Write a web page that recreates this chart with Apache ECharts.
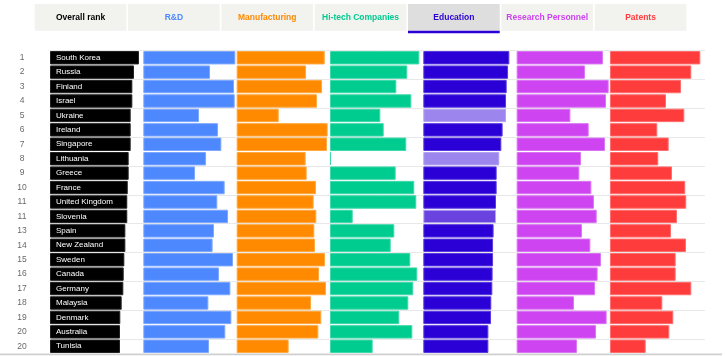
<!DOCTYPE html>
<html>
<head>
<meta charset="utf-8">
<script src="https://cdn.jsdelivr.net/npm/echarts@6/dist/echarts.min.js"></script>
<style>
html,body{margin:0;padding:0;background:#fff;}
#chart{width:725px;height:356px;}
</style>
</head>
<body>
<div id="chart"></div>
<script>
// ---------- DATA ----------
const categories = ['South Korea','Russia','Finland','Israel','Ukraine','Ireland','Singapore','Lithuania','Greece','France','United Kingdom','Slovenia','Spain','New Zealand','Sweden','Canada','Germany','Malaysia','Denmark','Australia','Tunisia'];
const ranks = [1,2,3,4,5,6,7,8,9,10,11,11,13,14,15,16,17,18,19,20,20];
const tabLabels = ['Overall rank','R&D','Manufacturing','Hi-tech Companies','Education','Research Personnel','Patents'];
const overallScore = [96.7,91.3,89.5,89.5,87.7,87.7,87.7,85.5,85.5,84.5,84.0,84.0,81.9,81.9,80.8,80.1,79.7,77.9,76.4,76.1,76.1];
const rdScore = [100,72.5,98.6,99.3,60.5,81.2,84.8,68.2,56.2,88.4,80.4,92.1,76.8,75.3,97.5,82.3,94.6,70.7,95.7,89.1,71.4];
const manufacturingScore = [95.7,75.4,92.8,87.3,45.7,98.9,98.2,75.0,76.1,86.2,83.7,86.6,84.4,85.1,96.0,89.5,97.1,80.8,92.0,88.8,56.5];
const hiTechScore = [97.1,84.0,72.1,88.4,54.7,58.4,82.9,1.0,71.4,91.6,93.8,24.7,69.9,66.0,87.3,94.9,90.5,85.1,75.3,89.5,46.4];
const educationScore = [93.5,92.1,90.6,89.9,89.9,86.2,84.8,82.6,79.7,79.7,79.0,79.0,76.4,75.8,75.8,75.3,75.0,73.9,73.6,70.7,70.7];
const researchScore = [93.8,74.2,100,97.1,58.4,78.3,96.0,69.9,68.1,81.2,84.0,87.0,71.0,80.1,91.6,88.0,85.1,62.3,97.8,86.2,65.5];
const patentsScore = [98.2,88.4,77.2,60.9,80.8,51.4,63.8,52.5,67.4,81.8,82.9,72.8,66.3,82.6,71.4,71.4,88.4,56.9,68.8,64.5,38.8];

// ---------- STYLE ----------
const FONT = '"Liberation Sans", Arial, sans-serif';
const colLeft0 = 50, colPitch = 93.33, colWidth = 92, gridTop = 50.5, plotH = 303;
const colors = ['#000000','#4d88ff','#ff8a00','#00cc8f','#2b00d6','#cd44f0','#ff3c3c'];
const borders = ['#222222','#7ea8ff','#ffa940','#40d9ab','#5a3ae0','#da74f4','#ff6e6e'];
const tabTextColors = ['#000000','#4d88ff','#ff8a00','#00cc8f','#2b00d6','#cd44f0','#ff3c3c'];
const eduShade = {4:'#9c86ee', 7:'#9c86ee', 11:'#6a42e0'}; // lighter shades for some education bars
const seriesData = [overallScore, rdScore, manufacturingScore, hiTechScore, educationScore, researchScore, patentsScore];

const grids = [], xAxes = [], yAxes = [], seriesList = [];
for (let i = 0; i < 7; i++) {
  grids.push({left: colLeft0 + i*colPitch, top: gridTop, width: colWidth, height: plotH, z: 3});
  xAxes.push({type:'value', gridIndex:i, min:0, max:100, show:false});
  yAxes.push({
    type:'category', gridIndex:i, data:categories, inverse:true,
    axisLine:{show:false}, axisTick:{show:false}, splitLine:{show:false},
    axisLabel: i === 0 ? {show:true, align:'center', margin:28, color:'#6a6a6a', fontSize:8.5, fontFamily:FONT,
      formatter:(v, idx) => String(ranks[idx])} : {show:false}
  });
  const data = seriesData[i].map((v, idx) => {
    if (i === 4 && eduShade[idx]) return {value:v, itemStyle:{color:eduShade[idx], borderColor:'#b3a3f2'}};
    return v;
  });
  seriesList.push({
    type:'bar', xAxisIndex:i, yAxisIndex:i, data:data, barCategoryGap:'7%',
    itemStyle:{color:colors[i], borderColor:borders[i], borderWidth:1},
    label: i === 0 ? {show:true, position:'insideLeft', distance:6, formatter:'{b}', color:'#fff', fontSize:8, fontFamily:FONT} : {show:false},
    silent:true, animation:false
  });
}
// row separator grid
grids.push({left:colLeft0, top:gridTop, width:655, height:plotH, z:1});
xAxes.push({type:'value', gridIndex:7, min:0, max:100, show:false});
yAxes.push({type:'category', gridIndex:7, data:categories, inverse:true,
  axisLine:{show:false}, axisTick:{show:false}, axisLabel:{show:false},
  splitLine:{show:true, lineStyle:{color:'#e8e8e8', width:1}}});

// tabs
const graphicList = [];
const tabLeft0 = 34.7, tabPitch = 93.33, tabW = 91.7;
tabLabels.forEach((t, i) => {
  const x = tabLeft0 + i*tabPitch;
  graphicList.push({type:'rect', left:x, top:4, shape:{width:tabW, height:26.7}, style:{fill: i === 4 ? '#dedede' : '#f2f2ef'}, silent:true});
  graphicList.push({type:'text', x:x + tabW/2, y:17.7, style:{text:t, fill:tabTextColors[i], font:'bold 8.5px ' + FONT, textAlign:'center', textVerticalAlign:'middle'}, silent:true});
});
graphicList.push({type:'rect', left:tabLeft0 + 4*tabPitch, top:30.7, shape:{width:tabW, height:2.6}, style:{fill:'#2b00d6'}, silent:true});
graphicList.push({type:'rect', left:0, top:353.6, shape:{width:722, height:1.6}, style:{fill:'#cfcfcf'}, silent:true});

const chart = echarts.init(document.getElementById('chart'), null, {renderer:'canvas'});
chart.setOption({
  animation:false,
  backgroundColor:'#fff',
  grid:grids, xAxis:xAxes, yAxis:yAxes, series:seriesList, graphic:graphicList
});
</script>
</body>
</html>
